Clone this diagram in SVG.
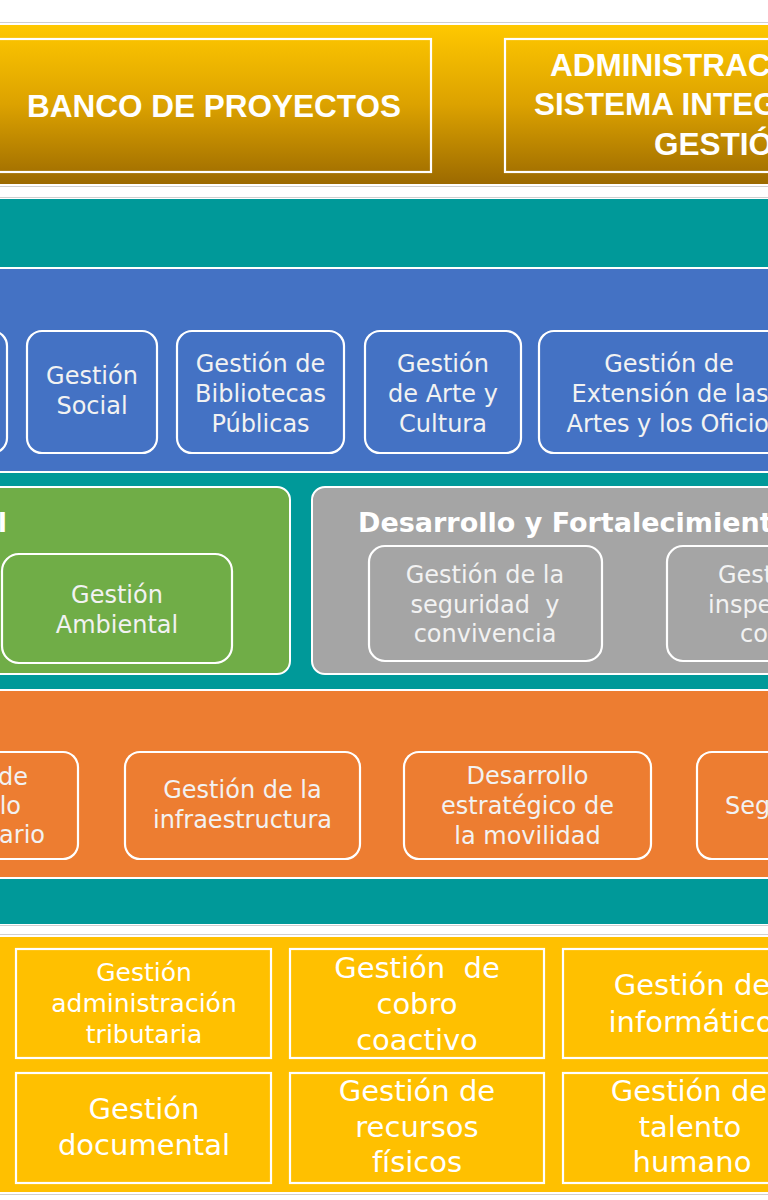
<svg xmlns="http://www.w3.org/2000/svg" width="768" height="1200" viewBox="0 0 768 1200">
<defs>
<linearGradient id="gold" x1="0" y1="0" x2="0" y2="1">
<stop offset="0" stop-color="#FFC800"/>
<stop offset="0.5" stop-color="#DCA200"/>
<stop offset="1" stop-color="#9C6A00"/>
</linearGradient>
</defs>
<style>
.frame{fill:none;stroke:#cfcfcf;stroke-width:1}
.wb{stroke:#ffffff;stroke-width:2}
.box{fill:none;stroke:#ffffff;stroke-width:2.2}
.hdr{font-family:"Liberation Sans",Arial,sans-serif;font-weight:bold;font-size:31.5px;fill:#ffffff}
.t{font-family:"DejaVu Sans",sans-serif;font-size:24px;fill:#f2f2f2;text-anchor:middle}
.tb{font-family:"DejaVu Sans",sans-serif;font-weight:bold;font-size:27px;fill:#ffffff}
.ty{font-family:"DejaVu Sans",sans-serif;font-size:29px;fill:#ffffff;text-anchor:middle}
.ty25{font-size:25px}
.pre{white-space:pre}
.st{text-anchor:start}
.en{text-anchor:end}
</style>
<rect width="768" height="1200" fill="#ffffff"/>

<g id="band-top">
<rect class="frame" x="-5" y="22.5" width="778" height="164"/>
<rect x="-5" y="25" width="778" height="159" fill="url(#gold)"/>
</g>
<g id="banco">
<rect class="box" x="-10" y="39" width="441" height="133"/>
<text class="hdr" x="214" y="117" text-anchor="middle">BANCO DE PROYECTOS</text>
</g>
<g id="administracion">
<rect class="box" x="505" y="39" width="300" height="133"/>
<text class="hdr" x="550" y="76">ADMINISTRAC</text>
<text class="hdr" x="534" y="115">SISTEMA INTEG</text>
<text class="hdr" x="654" y="155">GESTIÓ</text>
</g>

<g id="band-teal">
<rect class="frame" x="-5" y="197.5" width="778" height="728"/>
<rect x="-5" y="199" width="778" height="725" fill="#009999"/>
</g>

<g id="band-blue">
<rect class="wb" x="-5" y="268" width="778" height="204" fill="#4472C4"/>
</g>
<g id="blue-partial"><rect class="box" x="-150" y="331" width="157" height="122" rx="15"/></g>
<g id="gestion-social">
<rect class="box" x="27" y="331" width="130" height="122" rx="15"/>
<text class="t" x="92" y="384">Gestión</text>
<text class="t" x="92" y="414">Social</text>
</g>
<g id="gestion-bibliotecas">
<rect class="box" x="177" y="331" width="167" height="122" rx="15"/>
<text class="t" x="260.5" y="372">Gestión de</text>
<text class="t" x="260.5" y="402">Bibliotecas</text>
<text class="t" x="260.5" y="432">Públicas</text>
</g>
<g id="gestion-arte">
<rect class="box" x="365" y="331" width="156" height="122" rx="15"/>
<text class="t" x="443" y="372">Gestión</text>
<text class="t" x="443" y="402">de Arte y</text>
<text class="t" x="443" y="432">Cultura</text>
</g>
<g id="gestion-extension">
<rect class="box" x="539" y="331" width="300" height="122" rx="15"/>
<text class="t" x="669" y="372">Gestión de</text>
<text class="t" x="670" y="402">Extensión de las</text>
<text class="t" x="674" y="432">Artes y los Oficios</text>
</g>

<g id="panel-green">
<rect class="wb" x="-30" y="487" width="320" height="187" rx="13" fill="#70AD47"/>
<text class="tb en" x="7" y="532">l</text>
</g>
<g id="gestion-ambiental">
<rect class="box" x="2" y="554" width="230" height="109" rx="17"/>
<text class="t" x="117" y="603">Gestión</text>
<text class="t" x="117" y="633">Ambiental</text>
</g>

<g id="panel-gray">
<rect class="wb" x="312" y="487" width="500" height="187" rx="13" fill="#A5A5A5"/>
<text class="tb" x="358" y="532">Desarrollo y Fortalecimient</text>
</g>
<g id="gestion-seguridad">
<rect class="box" x="369" y="546" width="233" height="115" rx="16"/>
<text class="t" x="485" y="583">Gestión de la</text>
<text class="t pre" x="485" y="613">seguridad  y</text>
<text class="t" x="485" y="642">convivencia</text>
</g>
<g id="gestion-inspeccion">
<rect class="box" x="667" y="546" width="233" height="115" rx="16"/>
<text class="t st" x="718" y="583">Gest</text>
<text class="t st" x="708" y="613">inspe</text>
<text class="t st" x="740" y="642">co</text>
</g>

<g id="band-orange">
<rect class="wb" x="-5" y="690" width="778" height="188" fill="#ED7D31"/>
</g>
<g id="orange-partial">
<rect class="box" x="-150" y="752" width="228" height="107" rx="15"/>
<text class="t en" x="28" y="785">de</text>
<text class="t en" x="21" y="814">lo</text>
<text class="t en" x="45" y="843">ario</text>
</g>
<g id="gestion-infraestructura">
<rect class="box" x="125" y="752" width="235" height="107" rx="15"/>
<text class="t" x="242.5" y="798">Gestión de la</text>
<text class="t" x="242.5" y="828">infraestructura</text>
</g>
<g id="desarrollo-movilidad">
<rect class="box" x="404" y="752" width="247" height="107" rx="15"/>
<text class="t" x="527.5" y="784">Desarrollo</text>
<text class="t" x="527.5" y="814">estratégico de</text>
<text class="t" x="527.5" y="844">la movilidad</text>
</g>
<g id="orange-right">
<rect class="box" x="697" y="752" width="220" height="107" rx="15"/>
<text class="t st" x="725" y="814">Seg</text>
</g>

<g id="band-yellow">
<rect class="frame" x="-5" y="934.5" width="778" height="260"/>
<rect x="-5" y="937" width="778" height="255" fill="#FFC000"/>
</g>
<g id="gestion-tributaria">
<rect class="box" x="16" y="949" width="255" height="109"/>
<text class="ty ty25" x="144" y="981">Gestión</text>
<text class="ty ty25" x="144" y="1012">administración</text>
<text class="ty ty25" x="144" y="1043">tributaria</text>
</g>
<g id="gestion-cobro">
<rect class="box" x="290" y="949" width="254" height="109"/>
<text class="ty pre" x="417" y="978">Gestión  de</text>
<text class="ty" x="417" y="1014">cobro</text>
<text class="ty" x="417" y="1050">coactivo</text>
</g>
<g id="gestion-informatica">
<rect class="box" x="563" y="949" width="260" height="109"/>
<text class="ty" x="692" y="995">Gestión de</text>
<text class="ty" x="691" y="1032">informático</text>
</g>
<g id="gestion-documental">
<rect class="box" x="16" y="1073" width="255" height="110"/>
<text class="ty" x="144" y="1119">Gestión</text>
<text class="ty" x="144" y="1155">documental</text>
</g>
<g id="gestion-recursos">
<rect class="box" x="290" y="1073" width="254" height="110"/>
<text class="ty" x="417" y="1101">Gestión de</text>
<text class="ty" x="417" y="1137">recursos</text>
<text class="ty" x="417" y="1172">físicos</text>
</g>
<g id="gestion-talento">
<rect class="box" x="563" y="1073" width="260" height="110"/>
<text class="ty" x="689" y="1101">Gestión de</text>
<text class="ty" x="690" y="1137">talento</text>
<text class="ty" x="692" y="1172">humano</text>
</g>

<g id="connectors"></g>
</svg>
